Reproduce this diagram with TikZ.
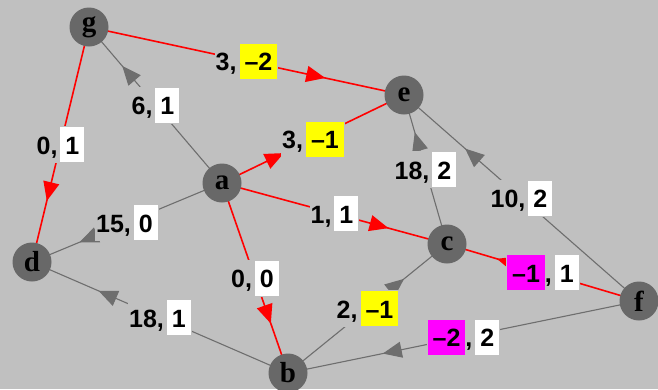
\documentclass[tikz,border=0pt]{standalone}
\usepackage{fontspec}
\newfontfamily\lblsans{Liberation Sans}
\newfontfamily\vtxserif{Liberation Serif}
\usetikzlibrary{arrows.meta,decorations.markings}
\definecolor{bgc}{RGB}{192,192,192}
\definecolor{vtxc}{RGB}{104,104,104}
\definecolor{edgc}{RGB}{110,110,110}
\definecolor{hlmag}{RGB}{255,0,255}
\definecolor{hlyel}{RGB}{255,255,0}
\definecolor{hlred}{RGB}{255,0,0}
\pgfdeclarelayer{bglayer}
\pgfdeclarelayer{edgelayer}
\pgfsetlayers{bglayer,edgelayer,main}
\newcommand\lblbox[2]{{\setlength\fboxsep{0pt}\colorbox{#1}{\rule[-8pt]{0pt}{35pt}\hspace{5pt}#2\hspace{5pt}}}}
\newcommand\bxw[1]{\lblbox{white}{#1}}
\newcommand\bxy[1]{\lblbox{hlyel}{#1}}
\newcommand\bxm[1]{\lblbox{hlmag}{#1}}
\tikzset{
  vtx/.style={circle, fill=vtxc, minimum size=39pt, inner sep=0pt,
    font=\vtxserif\bfseries\fontsize{29}{29}\selectfont},
  redge/.style={draw=hlred, line width=1.6pt, postaction={decorate,
    decoration={markings, mark=at position #1 with {\arrow{Triangle[length=19pt,width=16pt]}}}}},
  gedge/.style={draw=edgc, line width=1.1pt, postaction={decorate,
    decoration={markings, mark=at position #1 with {\arrow{Triangle[length=19pt,width=16pt]}}}}},
  lbl/.style={midway, fill=bgc, inner sep=1pt,
    font=\lblsans\bfseries\fontsize{25}{25}\selectfont},
}
\begin{document}
\begin{tikzpicture}[x=1pt,y=-1pt]
\begin{pgfonlayer}{bglayer}
\fill[bgc] (0,0) rectangle (658,389);
\end{pgfonlayer}
\useasboundingbox (0,0) rectangle (658,389);
\node[vtx] (g) at (89,27) {g};
\node[vtx] (e) at (404,95) {e};
\node[vtx] (a) at (222,183) {a};
\node[vtx] (d) at (32,262) {d};
\node[vtx] (c) at (447,244) {c};
\node[vtx] (f) at (639,301) {f};
\node[vtx] (b) at (288,373) {b};
\begin{pgfonlayer}{edgelayer}
\draw[redge=0.75] (g.center) -- (e.center) node[lbl] (lge) {3,\hspace{3pt}\bxy{\textendash2}};
\draw[gedge=0.75] (a.center) -- (g.center) node[lbl] (lag) {6,\hspace{3pt}\bxw{1}};
\draw[redge=0.74] (g.center) -- (d.center) node[lbl] (lgd) {0,\hspace{3pt}\bxw{1}};
\draw[redge=0.34] (a.center) -- (e.center) node[lbl] (lae) {3,\hspace{3pt}\bxy{\textendash1}};
\draw[gedge=0.75] (a.center) -- (d.center) node[lbl] (lad) {15,\hspace{3pt}\bxw{0}};
\draw[redge=0.74] (a.center) -- (c.center) node[lbl] (lac) {1,\hspace{3pt}\bxw{1}};
\draw[gedge=0.75] (c.center) -- (e.center) node[lbl] (lce) {18,\hspace{3pt}\bxw{2}};
\draw[gedge=0.74] (f.center) -- (e.center) node[lbl] (lfe) {10,\hspace{3pt}\bxw{2}};
\draw[redge=0.74] (f.center) -- (c.center) node[lbl] (lfc) {\bxm{\textendash1},\hspace{3pt}\bxw{1}};
\draw[gedge=0.73] (b.center) -- (c.center) node[lbl] (lbc) {2,\hspace{3pt}\bxy{\textendash1}};
\draw[gedge=0.74] (b.center) -- (d.center) node[lbl] (lbd) {18,\hspace{3pt}\bxw{1}};
\draw[redge=0.74] (a.center) -- (b.center) node[lbl] (lab) {0,\hspace{3pt}\bxw{0}};
\draw[gedge=0.73] (f.center) -- (b.center) node[lbl] (lfb) {\bxm{\textendash2},\hspace{3pt}\bxw{2}};
\end{pgfonlayer}
\end{tikzpicture}
\end{document}
